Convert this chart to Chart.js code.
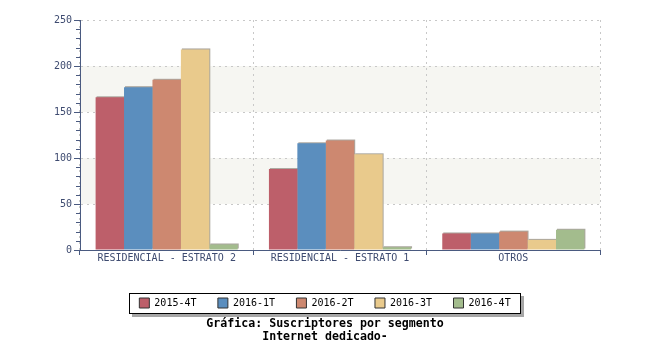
<!DOCTYPE html>
<html>
<head>
<meta charset="utf-8">
<script src="https://cdn.jsdelivr.net/npm/chart.js@4/dist/chart.umd.min.js"></script>
<style>
  html, body { margin: 0; padding: 0; background: #ffffff; }
  #wrap { width: 650px; height: 350px; }
</style>
</head>
<body>
<div id="wrap"><canvas id="c" width="650" height="350"></canvas></div>
<script>
// Suscriptores de Internet dedicado por segmento, por trimestre
const categories = ['RESIDENCIAL - ESTRATO 2', 'RESIDENCIAL - ESTRATO 1', 'OTROS'];
const periods = ['2015-4T', '2016-1T', '2016-2T', '2016-3T', '2016-4T'];
const v2015_4T = [166, 88, 18];
const v2016_1T = [177, 116, 18];
const v2016_2T = [185, 119, 20];
const v2016_3T = [218, 104, 11];
const v2016_4T = [6, 3, 22];
const yMax = 250;
const yMajorStep = 50;
const yMinorStep = 10;
const titleLines = ['Gráfica: Suscriptores por segmento', 'Internet dedicado-'];

const seriesValues = [v2015_4T, v2016_1T, v2016_2T, v2016_3T, v2016_4T];
const seriesColors = ['#BD5F6A', '#5B8EBE', '#CD8870', '#E9CA8C', '#A3BC8D'];

const AXIS = '#4A5A80';
const TEXT = '#3E4B70';
const GRID = '#C8C8C8';
const MONO = "'DejaVu Sans Mono', monospace";

// shaded horizontal bands behind the plot + frame for the legend
const backdrop = {
  id: 'backdrop',
  beforeDraw(chart) {
    const { ctx, chartArea: a, scales: { y } } = chart;
    ctx.save();
    ctx.fillStyle = '#F6F6F2';
    [[50, 100], [150, 200]].forEach(([lo, hi]) => {
      const t = y.getPixelForValue(hi), b = y.getPixelForValue(lo);
      ctx.fillRect(a.left, t, a.right - a.left, b - t);
    });
    // legend frame with drop shadow
    const hb = chart.legend && chart.legend.legendHitBoxes;
    if (hb && hb.length) {
      const l = Math.round(hb[0].left) - 10;
      const last = hb[hb.length - 1];
      const r = Math.round(last.left + last.width) + 10;
      const t = Math.round(hb[0].top) - 5;
      const b = Math.round(hb[0].top + hb[0].height) + 6;
      ctx.fillStyle = '#A6A6A6';
      ctx.fillRect(l + 3, t + 3, r - l, b - t);
      ctx.fillStyle = '#FFFFFF';
      ctx.fillRect(l, t, r - l, b - t);
      ctx.strokeStyle = '#000000';
      ctx.lineWidth = 1;
      ctx.strokeRect(l + 0.5, t + 0.5, r - l - 1, b - t - 1);
    }
    ctx.restore();
  },
  // thin shadow above and to the right of each bar
  beforeDatasetsDraw(chart) {
    const { ctx } = chart;
    ctx.save();
    ctx.fillStyle = '#ABA79F';
    chart.data.datasets.forEach((ds, i) => {
      const meta = chart.getDatasetMeta(i);
      meta.data.forEach(bar => {
        const h = bar.base - bar.y;
        if (h <= 0) return;
        ctx.fillRect(bar.x - bar.width / 2 + 1, bar.y - 1, bar.width, h);
      });
    });
    ctx.restore();
  },
  // minor ticks on the value axis
  afterDraw(chart) {
    const { ctx, chartArea: a, scales: { y } } = chart;
    ctx.save();
    ctx.strokeStyle = AXIS;
    ctx.lineWidth = 1;
    ctx.beginPath();
    for (let v = 0; v <= yMax; v += yMinorStep) {
      if (v % yMajorStep === 0) continue;
      const py = Math.round(y.getPixelForValue(v)) + 0.5;
      ctx.moveTo(a.left - 4, py);
      ctx.lineTo(a.left, py);
    }
    ctx.stroke();
    ctx.restore();
  }
};

new Chart(document.getElementById('c'), {
  type: 'bar',
  data: {
    labels: categories,
    datasets: periods.map((p, i) => ({
      label: p,
      data: seriesValues[i],
      backgroundColor: seriesColors[i],
      borderWidth: 0,
      categoryPercentage: 0.82,
      barPercentage: 1.0
    }))
  },
  options: {
    responsive: false,
    animation: false,
    devicePixelRatio: 1,
    layout: { padding: { top: 20, right: 0, left: 0, bottom: 0 } },
    scales: {
      x: {
        grid: {
          offset: true,
          color: GRID,
          drawTicks: true,
          tickLength: 5,
          tickColor: AXIS,
          tickWidth: 1
        },
        border: { display: true, color: AXIS, width: 1, dash: [2, 4] },
        ticks: {
          color: TEXT,
          font: { family: MONO, size: 10 },
          padding: -3,
          maxRotation: 0,
          autoSkip: false
        },
        afterFit(s) { s.height = 26.6; }
      },
      y: {
        min: 0,
        max: yMax,
        grid: {
          color: GRID,
          drawTicks: true,
          tickLength: 6,
          tickColor: AXIS,
          tickWidth: 1
        },
        border: { display: true, color: AXIS, width: 1, dash: [2, 4] },
        ticks: {
          stepSize: yMajorStep,
          color: TEXT,
          font: { family: MONO, size: 10 },
          padding: 2
        },
        afterFit(s) { s.width = 80; }
      },
      // empty margin on the right of the plot
      yRight: {
        position: 'right',
        display: true,
        grid: { display: false },
        border: { display: false },
        ticks: { display: false },
        afterFit(s) { s.width = 50; }
      }
    },
    plugins: {
      tooltip: { enabled: false },
      legend: {
        position: 'bottom',
        labels: {
          boxWidth: 10,
          boxHeight: 10,
          padding: 21.4,
          color: '#111111',
          font: { family: MONO, size: 10 },
          generateLabels(chart) {
            return chart.data.datasets.map((ds, i) => ({
              text: ds.label,
              fillStyle: ds.backgroundColor,
              strokeStyle: '#333333',
              lineWidth: 1,
              hidden: false,
              datasetIndex: i
            }));
          }
        }
      },
      title: {
        display: true,
        position: 'bottom',
        text: titleLines,
        color: '#000000',
        font: { family: MONO, size: 11.6, weight: 'bold', lineHeight: '12.5px' },
        padding: { top: 0, bottom: 7 }
      }
    }
  },
  plugins: [backdrop]
});
</script>
</body>
</html>
